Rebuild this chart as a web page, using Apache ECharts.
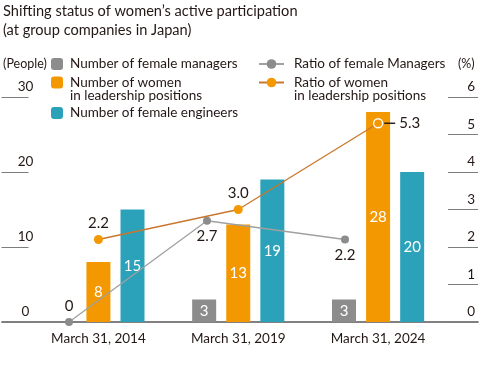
<!DOCTYPE html>
<html>
<head>
<meta charset="utf-8">
<script src="https://cdn.jsdelivr.net/npm/echarts@6/dist/echarts.min.js"></script>
<style>
html,body{margin:0;padding:0;background:#fff;}
#c{width:480px;height:373px;}
</style>
</head>
<body>
<div id="c"></div>
<script>
const categories = ['March 31, 2014', 'March 31, 2019', 'March 31, 2024'];
const femaleManagers = [0, 3, 3];
const womenLeaders = [8, 13, 28];
const femaleEngineers = [15, 19, 20];
const ratioFemaleManagers = [0, 2.7, 2.2];
const ratioWomenLeaders = [2.2, 3.0, 5.3];
const leftTicks = [0, 10, 20, 30];
const rightTicks = [0, 1, 2, 3, 4, 5, 6];

const NAME_MGR = 'Number of female managers';
const NAME_LEAD = 'Number of women\nin leadership positions';
const NAME_ENG = 'Number of female engineers';
const NAME_RMGR = 'Ratio of female Managers';
const NAME_RLEAD = 'Ratio of women\nin leadership positions';

const FONT = 'Lato';
const TXT = '#231815';
const GRAY = '#8c8c8c';
const ORANGE = '#F39800';
const TEAL = '#2BA2B9';

const chart = echarts.init(document.getElementById('c'), null, {renderer: 'canvas'});

const legendText = {fontFamily: FONT, fontSize: 13.5, color: TXT, lineHeight: 13.5};
const legendBase = {orient: 'horizontal', padding: 0, itemGap: 0, selectedMode: false};
// two-line names: prepend a blank line so the first line sits beside the icon
const twoLine = name => '\n' + name;

const barLabel = {
  show: true, position: 'inside', color: '#fff', fontFamily: FONT, fontSize: 15,
  formatter: p => (p.value === 0 ? '' : String(p.value))
};

const option = {
  animation: false,
  textStyle: {fontFamily: FONT},
  title: {
    text: 'Shifting status of women’s active participation\n(at group companies in Japan)',
    left: 3, top: 2, padding: 0,
    textStyle: {fontFamily: FONT, fontSize: 14.6, fontWeight: 'normal', color: TXT, lineHeight: 19}
  },
  legend: [
    Object.assign({}, legendBase, {left: 51, top: 57, itemWidth: 12, itemHeight: 12, data: [NAME_MGR],
      textStyle: Object.assign({}, legendText, {padding: [0,0,0,2]})}),
    Object.assign({}, legendBase, {left: 51, top: 62, itemWidth: 12, itemHeight: 12, data: [NAME_LEAD], formatter: twoLine,
      textStyle: Object.assign({}, legendText, {padding: [0,0,0,2]})}),
    Object.assign({}, legendBase, {left: 51, top: 106, itemWidth: 12, itemHeight: 12, data: [NAME_ENG],
      textStyle: Object.assign({}, legendText, {padding: [0,0,0,2]})}),
    Object.assign({}, legendBase, {left: 258, top: 57, itemWidth: 25, itemHeight: 12, data: [NAME_RMGR],
      textStyle: Object.assign({}, legendText, {padding: [0,0,0,5]})}),
    Object.assign({}, legendBase, {left: 258, top: 62, itemWidth: 25, itemHeight: 12, data: [NAME_RLEAD], formatter: twoLine,
      textStyle: Object.assign({}, legendText, {padding: [0,0,0,5]})})
  ],
  grid: [
    {left: 28.5, right: 32, top: 97, bottom: 51},
    {left: -5.5, right: 66, top: 97, bottom: 51},
    {left: 2, right: 2, top: 97, bottom: 51}
  ],
  xAxis: [
    {
      type: 'category', gridIndex: 0, data: categories, boundaryGap: true,
      axisLine: {show: false}, axisTick: {show: false},
      axisLabel: {color: TXT, fontFamily: FONT, fontSize: 13.5, margin: 10}
    },
    {
      type: 'category', gridIndex: 1, data: categories, boundaryGap: true, show: false
    },
    {
      type: 'category', gridIndex: 2, data: categories, boundaryGap: true,
      axisLine: {show: true, lineStyle: {color: '#595757', width: 1.6}},
      axisTick: {show: false}, axisLabel: {show: false}
    }
  ],
  yAxis: [
    {
      type: 'value', gridIndex: 0, min: leftTicks[0], max: leftTicks[leftTicks.length - 1], interval: 10,
      position: 'left',
      name: '(People)', nameLocation: 'end', nameGap: 27,
      nameTextStyle: {color: TXT, fontFamily: FONT, fontSize: 12.5, align: 'center', padding: [0, 7, 0, 0]},
      axisLine: {show: false},
      axisTick: {show: true, length: 27, lineStyle: {color: '#7d7d7d', width: 1}},
      splitLine: {show: false},
      axisLabel: {color: TXT, fontFamily: FONT, fontSize: 13.5, align: 'center', margin: 3, verticalAlign: 'bottom', padding: [0, 0, 3, 0]}
    },
    {
      type: 'value', gridIndex: 0, min: rightTicks[0], max: rightTicks[rightTicks.length - 1], interval: 1,
      position: 'right',
      name: '(%)', nameLocation: 'end', nameGap: 27,
      nameTextStyle: {color: TXT, fontFamily: FONT, fontSize: 12.5, align: 'left', padding: [0, 0, 0, 10]},
      axisLine: {show: false},
      axisTick: {show: true, length: 30, lineStyle: {color: '#7d7d7d', width: 1}},
      splitLine: {show: false},
      axisLabel: {color: TXT, fontFamily: FONT, fontSize: 13.5, align: 'right', margin: 27, verticalAlign: 'bottom', padding: [0, 0, 3, 0]}
    },
    {
      type: 'value', gridIndex: 1, min: rightTicks[0], max: rightTicks[rightTicks.length - 1], interval: 1, show: false
    },
    {
      type: 'value', gridIndex: 2, min: 0, max: 1, show: false
    }
  ],
  series: [
    {
      name: NAME_MGR, type: 'bar', xAxisIndex: 0, yAxisIndex: 0, data: femaleManagers,
      barWidth: 24, barGap: '42%', itemStyle: {color: GRAY}, label: barLabel, z: 2
    },
    {
      name: NAME_LEAD, type: 'bar', xAxisIndex: 0, yAxisIndex: 0, data: womenLeaders,
      barWidth: 24, barGap: '42%', itemStyle: {color: ORANGE}, label: barLabel, z: 2
    },
    {
      name: NAME_ENG, type: 'bar', xAxisIndex: 0, yAxisIndex: 0, data: femaleEngineers,
      barWidth: 24, barGap: '42%', itemStyle: {color: TEAL}, label: barLabel, z: 2
    },
    {
      name: NAME_RMGR, type: 'line', xAxisIndex: 1, yAxisIndex: 2,
      data: ratioFemaleManagers.map((v, i) => ({
        value: v,
        label: {position: i === 0 ? 'top' : 'bottom'}
      })),
      symbol: 'circle', symbolSize: 8, clip: false, z: 5,
      lineStyle: {color: '#9fa0a0', width: 1.3},
      itemStyle: {color: '#8c8c8c'},
      label: {show: true, color: TXT, fontFamily: FONT, fontSize: 15, distance: 4,
        formatter: p => (p.value === 0 ? '0' : p.value.toFixed(1))}
    },
    {
      name: NAME_RLEAD, type: 'line', xAxisIndex: 0, yAxisIndex: 1,
      data: ratioWomenLeaders.map((v, i) => (i === ratioWomenLeaders.length - 1 ? {
        value: v,
        itemStyle: {color: ORANGE, borderColor: '#fff', borderWidth: 1.3},
        label: {position: 'right', distance: 1, formatter: p => '{ln|}{v|' + p.value.toFixed(1) + '}'}
      } : {value: v, label: {position: 'top'}})),
      symbol: 'circle', symbolSize: 9, clip: false, z: 6,
      lineStyle: {color: '#C9772C', width: 1.3},
      itemStyle: {color: ORANGE},
      label: {show: true, color: TXT, fontFamily: FONT, fontSize: 15, distance: 4,
        formatter: p => p.value.toFixed(1),
        rich: {
          ln: {width: 11, height: 1.4, backgroundColor: '#231815'},
          v: {color: TXT, fontFamily: FONT, fontSize: 15, padding: [0, 0, 0, 4]}
        }}
    }
  ]
};
chart.setOption(option);
</script>
</body>
</html>
